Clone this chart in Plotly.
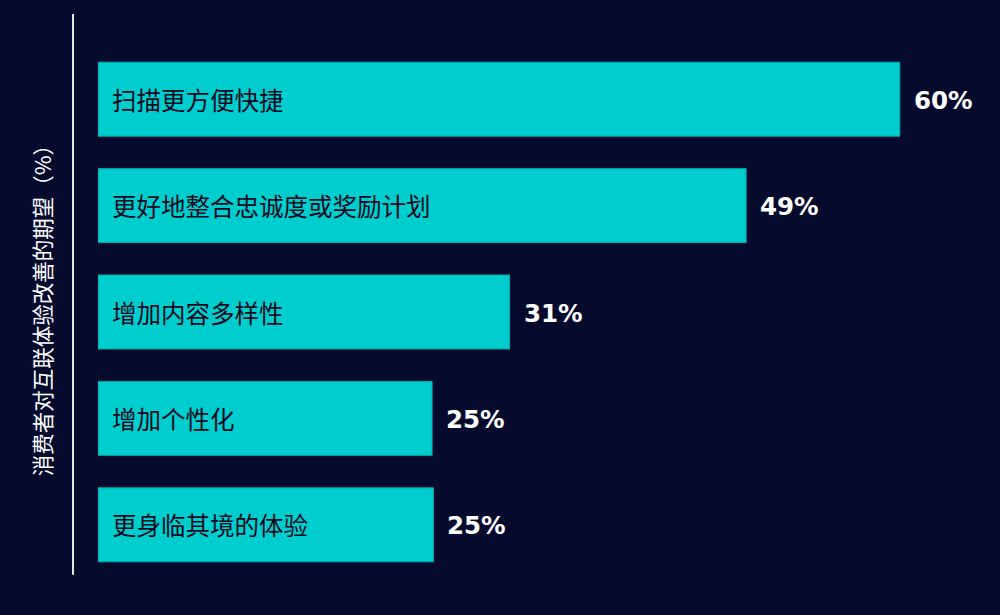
import plotly.graph_objects as go

# 消费者期望数据
categories = ["扫描更方便快捷", "更好地整合忠诚度或奖励计划", "增加内容多样性", "增加个性化", "更身临其境的体验"]
values = [60, 48.5, 30.8, 25, 25.1]
value_labels = ["60%", "49%", "31%", "25%", "25%"]
axis_title = "消费者对互联体验改善的期望（%）"

bg = "#060B2E"
bar_color = "#00CDCD"
cjk = "Noto Sans CJK SC, Microsoft YaHei, sans-serif"

fig = go.Figure()
fig.add_trace(go.Bar(
    x=values,
    y=categories,
    orientation="h",
    width=0.695,
    marker=dict(color=bar_color, line=dict(color="#08A9A9", width=1)),
    hoverinfo="skip",
))

# 条形内的类别标签
for cat in categories:
    fig.add_annotation(
        x=0, y=cat, text=cat, showarrow=False,
        xanchor="left", xshift=12,
        font=dict(family=cjk, size=24.5, color="#050A20"),
    )

# 条形外的数值标签
for cat, v, lab in zip(categories, values, value_labels):
    fig.add_annotation(
        x=v, y=cat, text="<b>" + lab + "</b>", showarrow=False,
        xanchor="left", xshift=12, yshift=-1,
        font=dict(family="DejaVu Sans, Verdana, sans-serif", size=24.5, color="white"),
    )

# 纵轴标题
fig.add_annotation(
    x=-0.063, y=0.513, xref="paper", yref="paper",
    xanchor="center", yanchor="middle",
    text=axis_title, textangle=-90, showarrow=False,
    font=dict(family=cjk, size=21.5, color="white"),
)

# 左侧竖线
fig.add_shape(
    type="line", xref="paper", yref="paper",
    x0=-0.0277, x1=-0.0277, y0=0.006, y1=1.06,
    line=dict(color="#E6E6E6", width=2),
)

fig.update_layout(
    width=1000, height=615,
    margin=dict(l=98, r=0, t=46, b=37),
    paper_bgcolor=bg, plot_bgcolor=bg,
    showlegend=False,
    xaxis=dict(range=[0, 67.5], visible=False, fixedrange=True),
    yaxis=dict(range=[4.5, -0.5], visible=False, fixedrange=True),
)

fig.write_html(
    "out.html",
    config={"displayModeBar": False},
    post_script="document.body.style.margin='0';document.body.style.overflow='hidden';",
)
